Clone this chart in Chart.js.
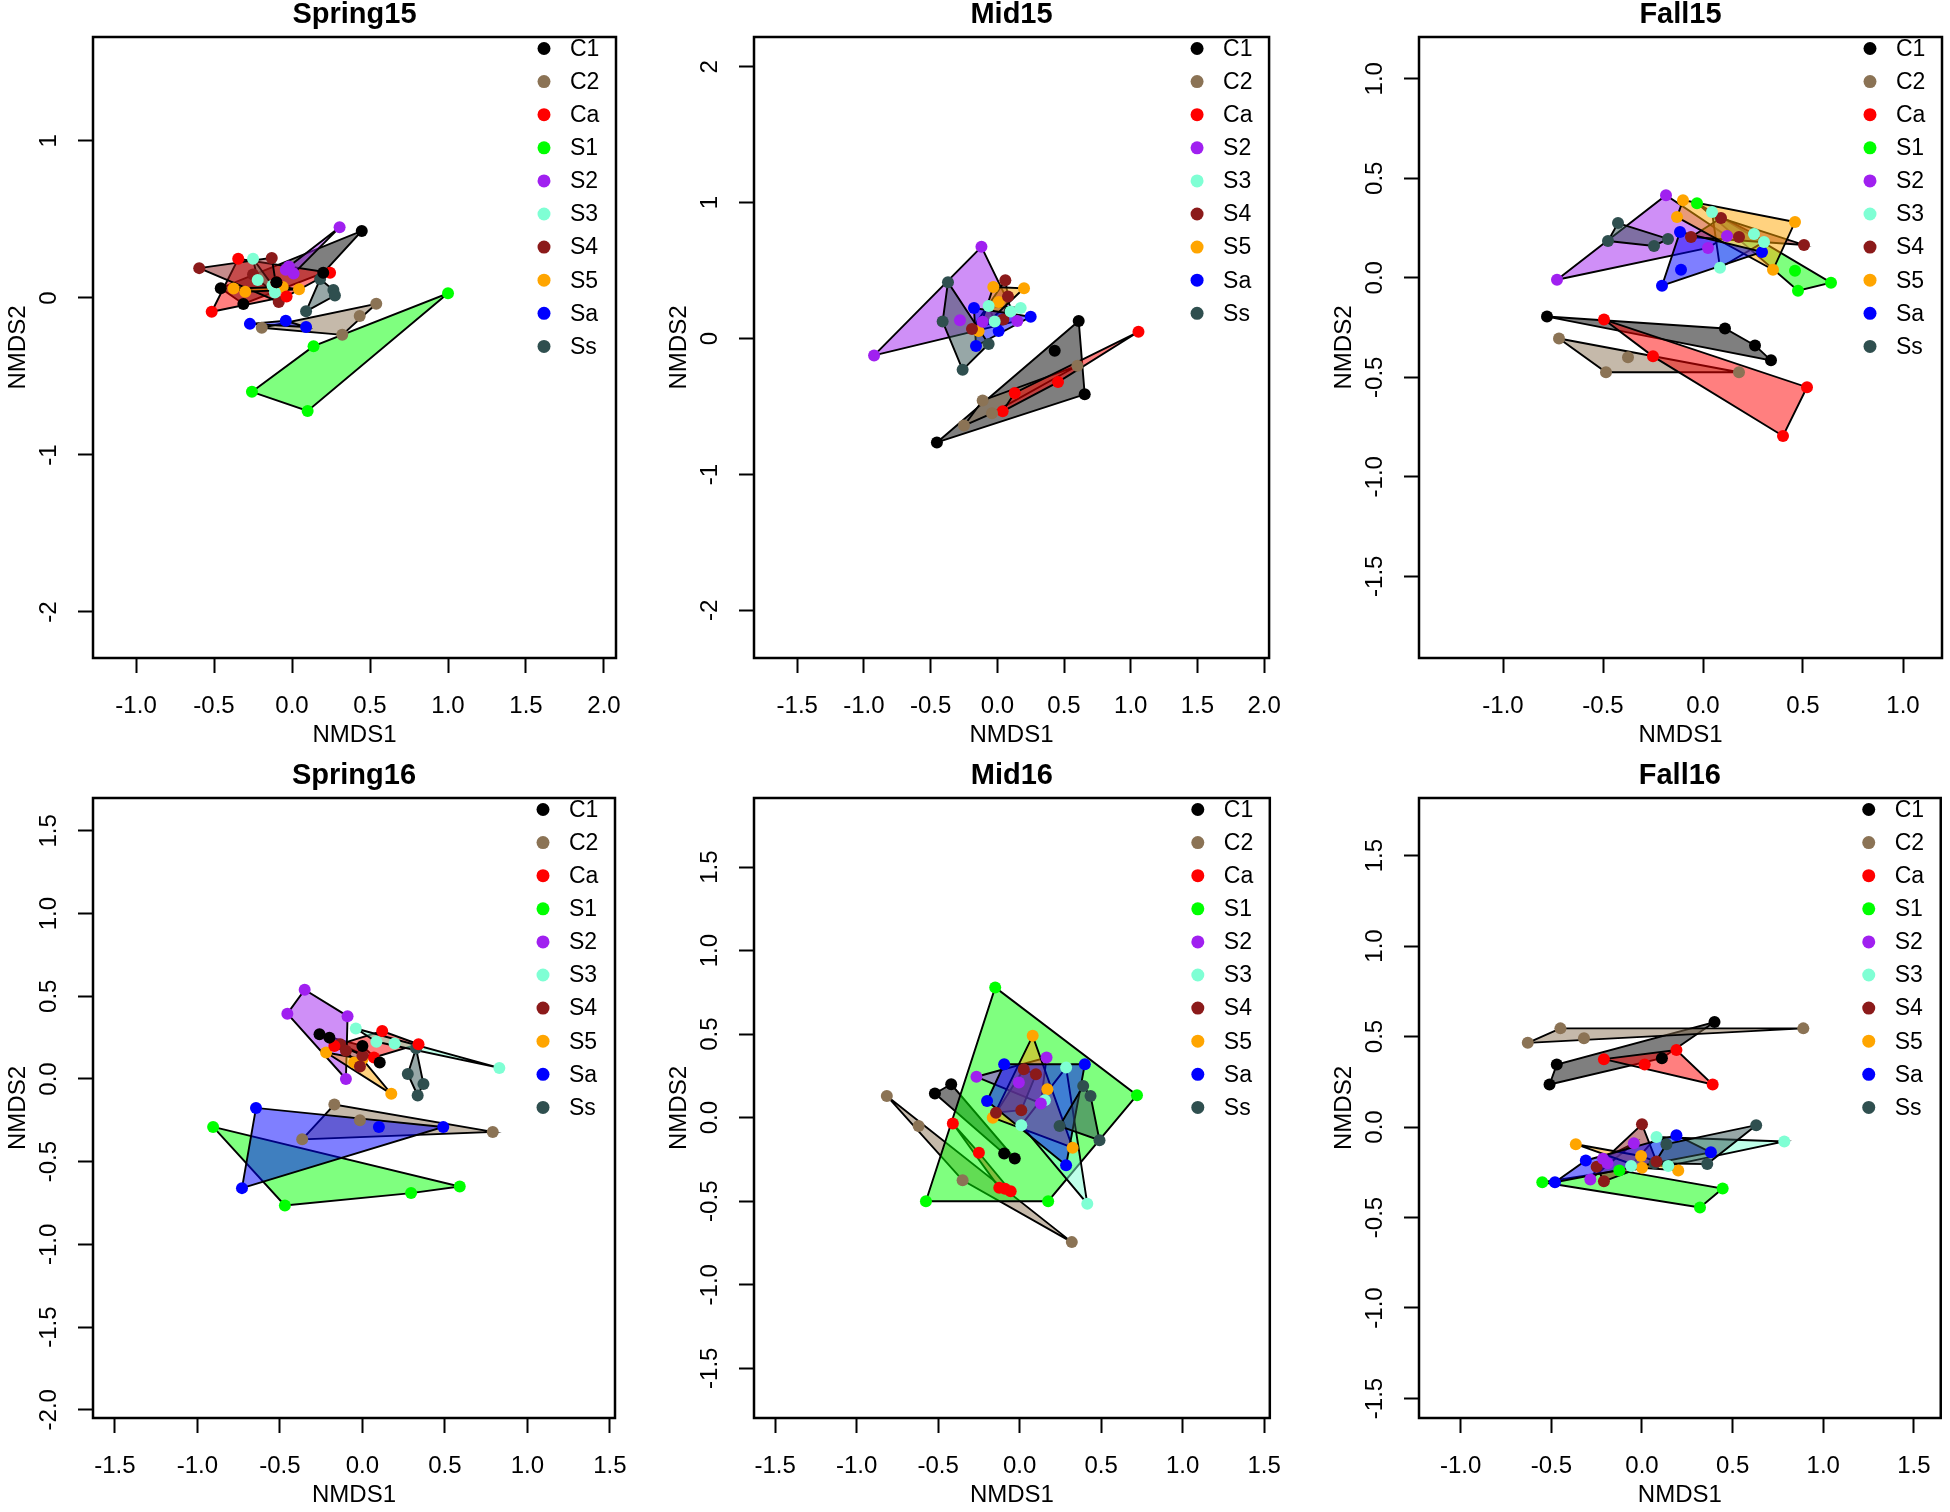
<!DOCTYPE html>
<html>
<head>
<meta charset="utf-8">
<script src="https://cdn.jsdelivr.net/npm/chart.js@4.4.1/dist/chart.umd.min.js"></script>
<style>
  html, body { margin: 0; padding: 0; background: #fff; }
  #wrap { position: relative; width: 1950px; height: 1512px; overflow: hidden; }
  #wrap canvas { position: absolute; }
</style>
</head>
<body>
<div id="wrap"></div>
<script>
// groups and colours (R: black, burlywood4, red, green, purple, aquamarine, firebrick4, orange, blue, darkslategray)
const groups = ['C1', 'C2', 'Ca', 'S1', 'S2', 'S3', 'S4', 'S5', 'Sa', 'Ss'];
const groupColors = ['#000000', '#8B7355', '#FF0000', '#00FF00', '#A020F0', '#7FFFD4', '#8B1A1A', '#FFA500', '#0000FF', '#2F4F4F'];

const panelTitles = ['Spring15', 'Mid15', 'Fall15', 'Spring16', 'Mid16', 'Fall16'];

// NMDS site scores, [NMDS1, NMDS2]
const spring15 = {
  C1: [[-0.457, 0.062], [-0.312, -0.038], [-0.1, 0.1], [0.2, 0.16], [0.447, 0.427]],
  C2: [[-0.194, -0.19], [0.322, -0.235], [0.54, -0.037], [0.434, -0.115]],
  Ca: [[-0.345, 0.25], [0.244, 0.16], [-0.515, -0.088], [-0.035, 0.01], [-0.1, 0.1]],
  S1: [[1.0, 0.03], [0.138, -0.307], [-0.257, -0.598], [0.1, -0.72]],
  S2: [[0.305, 0.45], [-0.02, 0.2], [0.01, 0.155], [-0.04, 0.18]],
  S3: [[-0.25, 0.25], [-0.22, 0.115], [-0.125, 0.08], [-0.11, 0.035]],
  S4: [[-0.595, 0.19], [-0.13, 0.255], [-0.085, -0.025], [-0.25, 0.15]],
  S5: [[-0.375, 0.06], [-0.3, 0.04], [-0.06, 0.07], [0.045, 0.055]],
  Sa: [[-0.27, -0.165], [-0.04, -0.145], [0.09, -0.185]],
  Ss: [[0.18, 0.12], [0.265, 0.05], [0.275, 0.015], [0.09, -0.085]]
};
const mid15 = {
  C1: [[-0.453, -0.764], [0.61, 0.13], [0.43, -0.09], [0.655, -0.41]],
  C2: [[-0.25, -0.64], [-0.11, -0.455], [0.6, -0.2], [-0.04, -0.55]],
  Ca: [[1.058, 0.05], [0.13, -0.4], [0.455, -0.32], [0.04, -0.535]],
  S2: [[-0.924, -0.124], [-0.119, 0.675], [-0.11, 0.124], [-0.28, 0.135], [0.15, 0.13]],
  S3: [[-0.065, 0.24], [0.175, 0.225], [-0.02, 0.125], [0.1, 0.2]],
  S4: [[0.06, 0.43], [0.08, 0.31], [0.045, 0.14], [-0.19, 0.07]],
  S5: [[-0.03, 0.38], [0.2, 0.37], [0.01, 0.27], [-0.14, 0.055]],
  Sa: [[-0.175, 0.225], [0.25, 0.16], [-0.16, -0.055], [0.01, 0.055]],
  Ss: [[-0.37, 0.415], [-0.41, 0.125], [-0.26, -0.23], [-0.065, -0.04]]
};
const fall15 = {
  C1: [[-0.78, -0.195], [0.11, -0.255], [0.26, -0.34], [0.34, -0.415]],
  C2: [[-0.72, -0.305], [-0.375, -0.4], [-0.485, -0.475], [0.18, -0.475]],
  Ca: [[-0.495, -0.21], [-0.25, -0.395], [0.52, -0.55], [0.4, -0.795]],
  S1: [[-0.03, 0.375], [0.64, -0.025], [0.475, -0.065], [0.46, 0.035]],
  S2: [[-0.73, -0.01], [-0.185, 0.415], [0.12, 0.21], [0.025, 0.15]],
  S3: [[0.045, 0.33], [0.255, 0.22], [0.305, 0.18], [0.085, 0.05]],
  S4: [[0.09, 0.3], [-0.06, 0.205], [0.18, 0.205], [0.505, 0.165]],
  S5: [[-0.1, 0.39], [-0.13, 0.305], [0.46, 0.28], [0.35, 0.04]],
  Sa: [[-0.115, 0.23], [0.295, 0.13], [-0.11, 0.04], [-0.205, -0.04]],
  Ss: [[-0.425, 0.275], [-0.475, 0.185], [-0.245, 0.16], [-0.175, 0.195]]
};
const spring16 = {
  C1: [[-0.26, 0.27], [-0.2, 0.25], [0.105, 0.1], [0.0, 0.2]],
  C2: [[-0.17, -0.155], [-0.015, -0.25], [0.79, -0.32], [-0.365, -0.365]],
  Ca: [[0.12, 0.29], [0.34, 0.21], [0.07, 0.13], [-0.17, 0.2]],
  S1: [[-0.905, -0.29], [0.59, -0.65], [0.295, -0.69], [-0.47, -0.765]],
  S2: [[-0.35, 0.54], [-0.455, 0.395], [-0.09, 0.38], [-0.1, 0.0]],
  S3: [[-0.04, 0.305], [0.085, 0.225], [0.195, 0.215], [0.83, 0.067]],
  S4: [[-0.135, 0.21], [-0.015, 0.075], [-0.1, 0.17], [0.0, 0.14]],
  S5: [[-0.22, 0.16], [0.175, -0.09], [0.0, 0.12], [-0.05, 0.1]],
  Sa: [[-0.645, -0.175], [-0.73, -0.66], [0.49, -0.29], [0.1, -0.29]],
  Ss: [[0.325, 0.185], [0.275, 0.03], [0.37, -0.03], [0.335, -0.1]]
};
const mid16 = {
  C1: [[-0.52, 0.145], [-0.42, 0.2], [-0.095, -0.215], [-0.03, -0.245]],
  C2: [[-0.815, 0.13], [-0.62, -0.05], [-0.35, -0.375], [0.32, -0.745]],
  Ca: [[-0.41, -0.035], [-0.25, -0.21], [-0.125, -0.42], [-0.055, -0.44], [-0.09, -0.425]],
  S1: [[-0.15, 0.78], [0.72, 0.135], [0.175, -0.5], [-0.575, -0.5]],
  S2: [[-0.265, 0.245], [0.165, 0.36], [-0.005, 0.21], [0.13, 0.085]],
  S3: [[0.285, 0.3], [0.155, 0.105], [0.01, -0.045], [0.415, -0.515]],
  S4: [[0.025, 0.29], [0.1, 0.26], [0.01, 0.045], [-0.145, 0.03]],
  S5: [[0.08, 0.49], [0.17, 0.17], [-0.165, 0.0], [0.325, -0.18]],
  Sa: [[-0.095, 0.32], [0.4, 0.32], [-0.2, 0.1], [0.285, -0.285]],
  Ss: [[0.39, 0.19], [0.435, 0.13], [0.49, -0.135], [0.245, -0.05]]
};
const fall16 = {
  C1: [[0.4, 0.58], [-0.47, 0.345], [-0.51, 0.235], [0.11, 0.38]],
  C2: [[-0.63, 0.465], [-0.45, 0.545], [-0.32, 0.49], [0.89, 0.545]],
  Ca: [[0.19, 0.425], [-0.21, 0.375], [0.015, 0.345], [0.39, 0.235]],
  S1: [[-0.55, -0.305], [0.445, -0.34], [0.32, -0.445], [-0.125, -0.24]],
  S2: [[-0.045, -0.09], [-0.215, -0.175], [-0.19, -0.2], [-0.285, -0.29]],
  S3: [[0.785, -0.08], [0.08, -0.055], [0.145, -0.215], [-0.06, -0.215]],
  S4: [[0.0, 0.015], [0.08, -0.19], [-0.25, -0.22], [-0.21, -0.3]],
  S5: [[-0.365, -0.095], [-0.005, -0.16], [0.2, -0.24], [0.0, -0.225]],
  Sa: [[-0.48, -0.305], [-0.31, -0.185], [0.19, -0.045], [0.38, -0.14]],
  Ss: [[0.63, 0.01], [0.135, -0.095], [0.36, -0.205], [0.07, -0.2]]
};
const panelData = [spring15, mid15, fall15, spring16, mid16, fall16];

// axis limits and ticks
const xLimits = [[-1.276, 2.077], [-1.824, 2.037], [-1.42, 1.195], [-1.633, 1.531], [-1.63, 1.535], [-1.23, 1.648]];
const yLimits = [[-2.293, 1.662], [-2.35, 2.219], [-1.911, 1.21], [-2.05, 1.699], [-1.798, 1.914], [-1.608, 1.818]];
const yTickStep = [1, 1, 0.5, 0.5, 0.5, 0.5];
const yTickDecimals = [0, 0, 1, 1, 1, 1];

// plot boxes on the page: left, top, right, bottom
const boxes = [
  [93, 37, 616, 658], [754, 37, 1281, 658], [1419, 37, 1942, 658],
  [93, 798, 615, 1418], [754, 798, 1281, 1418], [1419, 798, 1942, 1418]
];
const cellW = 650, cellH = 756;
const FONT = "'Liberation Sans', Arial, sans-serif";
const TICK_LEN = 15;
const AXIS_FONT = 24;

function hexToRgba(hex, a) {
  const n = parseInt(hex.slice(1), 16);
  return `rgba(${(n >> 16) & 255},${(n >> 8) & 255},${n & 255},${a})`;
}

// convex hull (ordihull), monotone chain
function hull(pts) {
  const p = pts.slice().sort((a, b) => a[0] - b[0] || a[1] - b[1]);
  if (p.length < 3) return p;
  const cross = (o, a, b) => (a[0] - o[0]) * (b[1] - o[1]) - (a[1] - o[1]) * (b[0] - o[0]);
  const lower = [], upper = [];
  for (const q of p) {
    while (lower.length >= 2 && cross(lower[lower.length - 2], lower[lower.length - 1], q) <= 0) lower.pop();
    lower.push(q);
  }
  for (let i = p.length - 1; i >= 0; i--) {
    const q = p[i];
    while (upper.length >= 2 && cross(upper[upper.length - 2], upper[upper.length - 1], q) <= 0) upper.pop();
    upper.push(q);
  }
  upper.pop(); lower.pop();
  return lower.concat(upper);
}

const measureCtx = document.createElement('canvas').getContext('2d');
measureCtx.font = AXIS_FONT + 'px ' + FONT;

const framePlugin = {
  id: 'frame',
  afterDraw(chart, args, opts) {
    const {ctx, chartArea: a} = chart;
    ctx.save();
    ctx.strokeStyle = '#000';
    ctx.lineWidth = 2.5;
    ctx.strokeRect(a.left, a.top, a.right - a.left, a.bottom - a.top);

    // panel title
    ctx.fillStyle = '#000';
    ctx.font = 'bold 29px ' + FONT;
    ctx.textAlign = 'center';
    ctx.textBaseline = 'middle';
    ctx.fillText(opts.title, (a.left + a.right) / 2, a.top - 22);

    // legend, top right, no box
    ctx.font = '23px ' + FONT;
    ctx.textAlign = 'left';
    opts.entries.forEach((g, i) => {
      const y = a.top + 11.5 + i * 33.1;
      ctx.fillStyle = groupColors[groups.indexOf(g)];
      ctx.beginPath();
      ctx.arc(a.right - 72, y, 6.5, 0, Math.PI * 2);
      ctx.fill();
      ctx.fillStyle = '#000';
      ctx.fillText(g, a.right - 46, y + 1);
    });
    ctx.restore();
  }
};

const wrap = document.getElementById('wrap');

panelData.forEach((pdata, pi) => {
  const col = pi % 3, row = Math.floor(pi / 3);
  const cellLeft = col * cellW, cellTop = row * cellH;
  const [bl, bt, br, bb] = boxes[pi];

  const canvas = document.createElement('canvas');
  canvas.width = cellW;
  canvas.height = cellH;
  canvas.style.left = cellLeft + 'px';
  canvas.style.top = cellTop + 'px';
  wrap.appendChild(canvas);

  const present = groups.filter(g => pdata[g]);
  const datasets = [];
  present.forEach(g => {
    const gi = groups.indexOf(g);
    const h = hull(pdata[g]);
    datasets.push({
      type: 'line',
      label: g + ' hull',
      data: h.concat([h[0]]).map(([x, y]) => ({x, y})),
      borderColor: '#000',
      borderWidth: 1.9,
      backgroundColor: hexToRgba(groupColors[gi], 0.5),
      fill: 'shape',
      tension: 0,
      pointRadius: 0,
      order: 50 - gi
    });
  });
  present.forEach(g => {
    const gi = groups.indexOf(g);
    datasets.push({
      type: 'scatter',
      label: g,
      data: pdata[g].map(([x, y]) => ({x, y})),
      backgroundColor: groupColors[gi],
      pointRadius: 6,
      pointBorderWidth: 0,
      order: 0
    });
  });

  // y tick labels are rotated; centre them a fixed distance from the box
  const yVals = [];
  for (let v = Math.ceil(yLimits[pi][0] / yTickStep[pi]) * yTickStep[pi]; v <= yLimits[pi][1]; v += yTickStep[pi]) yVals.push(v);
  const widest = Math.max(...yVals.map(v => measureCtx.measureText(v.toFixed(yTickDecimals[pi])).width));
  const yPad = 44 - TICK_LEN - widest / 2;

  const yAxisW = bl - cellLeft;
  const xAxisH = cellTop + cellH - bb;
  const xTitlePadBottom = (cellTop + cellH) - (bb + 77) - AXIS_FONT * 0.6;
  const yTitlePadTop = (bl - cellLeft - 75) - AXIS_FONT * 0.6;

  new Chart(canvas, {
    type: 'scatter',
    data: {datasets},
    options: {
      responsive: false,
      animation: false,
      devicePixelRatio: 1,
      events: [],
      layout: {padding: {left: 0, top: bt - cellTop, right: cellLeft + cellW - br, bottom: 0}},
      plugins: {
        legend: {display: false},
        tooltip: {enabled: false},
        frame: {title: panelTitles[pi], entries: present}
      },
      scales: {
        x: {
          type: 'linear',
          min: xLimits[pi][0],
          max: xLimits[pi][1],
          afterFit(scale) { scale.height = xAxisH; },
          border: {display: false},
          grid: {drawOnChartArea: false, drawTicks: true, tickLength: TICK_LEN, tickWidth: 2, tickColor: '#000'},
          ticks: {
            stepSize: 0.5,
            includeBounds: false,
            autoSkip: false,
            maxRotation: 0,
            padding: 19,
            color: '#000',
            font: {family: FONT, size: AXIS_FONT},
            callback: v => Number(v).toFixed(1)
          },
          title: {display: true, text: 'NMDS1', color: '#000', font: {family: FONT, size: AXIS_FONT}, padding: {top: 0, bottom: xTitlePadBottom}}
        },
        y: {
          type: 'linear',
          min: yLimits[pi][0],
          max: yLimits[pi][1],
          afterFit(scale) { scale.width = yAxisW; },
          border: {display: false},
          grid: {drawOnChartArea: false, drawTicks: true, tickLength: TICK_LEN, tickWidth: 2, tickColor: '#000'},
          ticks: {
            stepSize: yTickStep[pi],
            includeBounds: false,
            autoSkip: false,
            minRotation: 90,
            maxRotation: 90,
            crossAlign: 'center',
            padding: yPad,
            color: '#000',
            font: {family: FONT, size: AXIS_FONT},
            callback: v => Number(v).toFixed(yTickDecimals[pi])
          },
          title: {display: true, text: 'NMDS2', color: '#000', font: {family: FONT, size: AXIS_FONT}, padding: {top: yTitlePadTop, bottom: 0}}
        }
      }
    },
    plugins: [framePlugin]
  });
});
</script>
</body>
</html>
